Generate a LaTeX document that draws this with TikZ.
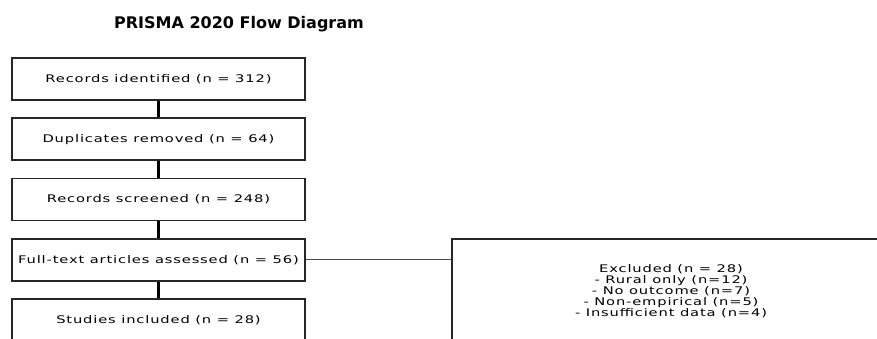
\documentclass[tikz,border=0pt]{standalone}
\usepackage{fontspec}
\setmainfont{DejaVu Sans}
\newfontfamily\boxfont[FakeStretch=1.4,LetterSpace=8]{DejaVu Sans}
\begin{document}
\begin{tikzpicture}[x=1pt,y=-1pt,
  stagebox/.style={draw=black!85, line width=1.6pt, rectangle, minimum width=293pt, minimum height=42pt, inner sep=0pt,
    font=\boxfont\fontsize{10.5pt}{11pt}\selectfont, align=center},
  exbox/.style={draw=black!85, line width=1.6pt, rectangle, minimum width=438pt, minimum height=104pt, inner sep=0pt,
    font=\boxfont\fontsize{10.5pt}{11pt}\selectfont, align=center},
  link/.style={draw=black, line width=2.2pt},
  sidelink/.style={draw=black!70, line width=1.2pt}]
\useasboundingbox (0,0) rectangle (877,338);
\clip (0,0) rectangle (877,338);
\fill[white] (0,0) rectangle (877,338);
\node[font=\bfseries\fontsize{16pt}{18pt}\selectfont] (title) at (239,24) {PRISMA 2020 Flow Diagram};
\node[stagebox] (b1) at (158.5,79) {Records identified (n = 312)};
\node[stagebox] (b2) at (158.5,139.25) {Duplicates removed (n = 64)};
\node[stagebox] (b3) at (158.5,199.5) {Records screened (n = 248)};
\node[stagebox] (b4) at (158.5,259.75) {Full-text articles assessed (n = 56)};
\node[stagebox] (b5) at (158.5,320) {Studies included (n = 28)};
\node[exbox] (ex) at (671,291) {Excluded (n = 28)\\- Rural only (n=12)\\- No outcome (n=7)\\- Non-empirical (n=5)\\- Insufficient data (n=4)};
\draw[link] (b1) -- (b2);
\draw[link] (b2) -- (b3);
\draw[link] (b3) -- (b4);
\draw[link] (b4) -- (b5);
\draw[sidelink] (b4.east) -- (b4.east -| ex.west);
\end{tikzpicture}
\end{document}
